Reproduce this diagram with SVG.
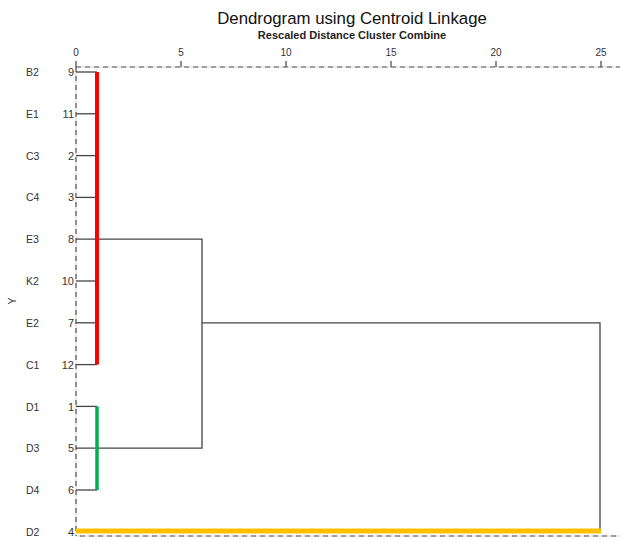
<svg xmlns="http://www.w3.org/2000/svg" width="620" height="539" viewBox="0 0 620 539">
<style>
text{font-family:"Liberation Sans",Arial,sans-serif;fill:#222}
.title{font-size:16.8px;fill:#111}
.sub{font-size:11px;font-weight:bold}
.tick{font-size:10px;text-anchor:middle;fill:#333}
.case{font-size:10.5px;fill:#333}
.num{font-size:11px;text-anchor:end;fill:#333}
.axis{stroke:#555;stroke-width:1.2;stroke-dasharray:5,4;fill:none}
.axisthin{stroke:#bbb;stroke-width:0.6;fill:none}
.br{stroke:#444;stroke-width:1.3;fill:none}
</style>
<rect width="620" height="539" fill="#fff"/>
<text class="title" x="352" y="24" text-anchor="middle">Dendrogram using Centroid Linkage</text>
<text class="sub" x="352" y="39" text-anchor="middle">Rescaled Distance Cluster Combine</text>
<g id="axis">
<line class="axisthin" x1="76" y1="67" x2="620" y2="67"/>
<line class="axis" x1="76" y1="67" x2="620" y2="67"/>
<line class="axisthin" x1="76" y1="536" x2="620" y2="536"/>
<line class="axis" x1="80" y1="536" x2="620" y2="536"/>
<line class="axisthin" x1="76" y1="67" x2="76" y2="536"/>
<line class="axis" x1="76" y1="67" x2="76" y2="536"/>
<g stroke="#444" stroke-width="1.2">
<line x1="76" y1="61" x2="76" y2="67"/>
<line x1="181" y1="61" x2="181" y2="67"/>
<line x1="286" y1="61" x2="286" y2="67"/>
<line x1="391" y1="61" x2="391" y2="67"/>
<line x1="496" y1="61" x2="496" y2="67"/>
<line x1="601" y1="61" x2="601" y2="67"/>
</g>
<text class="tick" x="76" y="56">0</text>
<text class="tick" x="181" y="56">5</text>
<text class="tick" x="286" y="56">10</text>
<text class="tick" x="391" y="56">15</text>
<text class="tick" x="496" y="56">20</text>
<text class="tick" x="601" y="56">25</text>
<text class="case" x="16" y="301" transform="rotate(-90 16 301)" text-anchor="middle">Y</text>
</g>
<g id="labels">
<g id="n-B2"><text class="case" x="26" y="76">B2</text><text class="num" x="74" y="76">9</text></g>
<g id="n-E1"><text class="case" x="26" y="118">E1</text><text class="num" x="74" y="118">11</text></g>
<g id="n-C3"><text class="case" x="26" y="160">C3</text><text class="num" x="74" y="160">2</text></g>
<g id="n-C4"><text class="case" x="26" y="201">C4</text><text class="num" x="74" y="201">3</text></g>
<g id="n-E3"><text class="case" x="26" y="243">E3</text><text class="num" x="74" y="243">8</text></g>
<g id="n-K2"><text class="case" x="26" y="285">K2</text><text class="num" x="74" y="285">10</text></g>
<g id="n-E2"><text class="case" x="26" y="327">E2</text><text class="num" x="74" y="327">7</text></g>
<g id="n-C1"><text class="case" x="26" y="369">C1</text><text class="num" x="74" y="369">12</text></g>
<g id="n-D1"><text class="case" x="26" y="411">D1</text><text class="num" x="74" y="411">1</text></g>
<g id="n-D3"><text class="case" x="26" y="452">D3</text><text class="num" x="74" y="452">5</text></g>
<g id="n-D4"><text class="case" x="26" y="494">D4</text><text class="num" x="74" y="494">6</text></g>
<g id="n-D2"><text class="case" x="26" y="536">D2</text><text class="num" x="74" y="536">4</text></g>
</g>
<g id="connectors">
<g class="br">
<line x1="76" y1="72" x2="97" y2="72"/>
<line x1="76" y1="113.8" x2="97" y2="113.8"/>
<line x1="76" y1="155.6" x2="97" y2="155.6"/>
<line x1="76" y1="197.4" x2="97" y2="197.4"/>
<line x1="76" y1="281" x2="97" y2="281"/>
<line x1="76" y1="322.8" x2="97" y2="322.8"/>
<line x1="76" y1="364.6" x2="97" y2="364.6"/>
<line x1="76" y1="406.4" x2="97" y2="406.4"/>
<line x1="76" y1="490" x2="97" y2="490"/>
<polyline points="76,239.2 202,239.2 202,448.2 76,448.2"/>
<polyline points="202,322.8 600,322.8 600,531"/>
</g>
<line x1="97" y1="72" x2="97" y2="364.6" stroke="#f00" stroke-width="4"/>
<line x1="97" y1="406.4" x2="97" y2="490" stroke="#00b050" stroke-width="3.5"/>
<line x1="76" y1="531" x2="601" y2="531" stroke="#ffc000" stroke-width="5"/>
</g>
</svg>
